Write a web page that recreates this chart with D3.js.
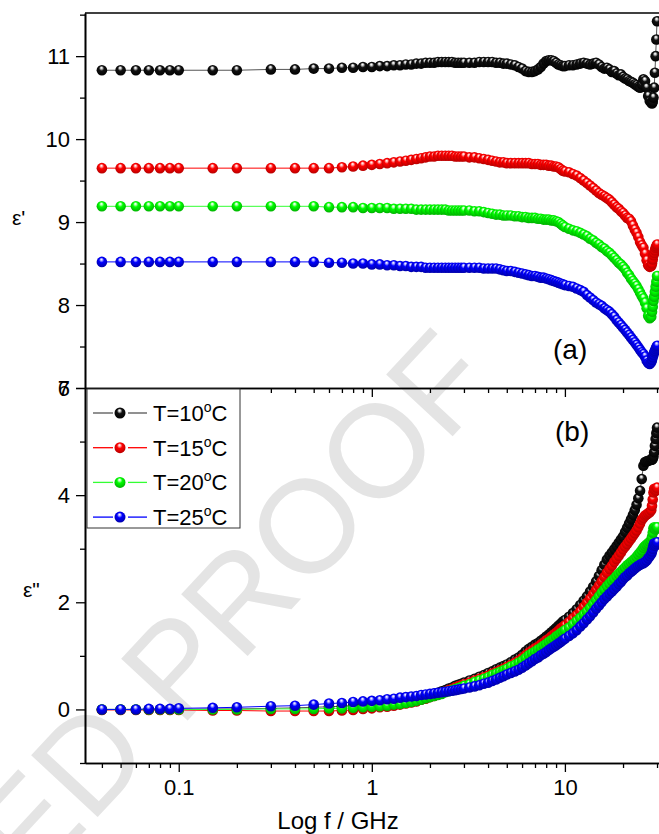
<!DOCTYPE html>
<html>
<head>
<meta charset="utf-8">
<script src="https://cdn.jsdelivr.net/npm/d3@7"></script>
<style>
  body { margin: 0; background: #fff; }
  text { font-family: "Liberation Sans", Arial, sans-serif; }
</style>
</head>
<body>
<div id="chart"></div>
<script>
/////////////////////////////////////
//////////////// data ///////////////
/////////////////////////////////////

var freq = [0.04,0.05,0.06,0.07,0.08,0.09,0.1,0.15,0.2,0.3,0.4,0.5,0.6,0.7,0.8,0.9,1.0,
  1.1,1.2,1.3,1.4,1.5,1.6,1.7,1.8,1.9,2.0,2.1,2.2,2.3,2.4,2.5,2.6,2.7,2.8,2.9,3.0,
  3.2,3.4,3.6,3.8,4.0,4.2,4.4,4.6,4.8,5.0,
  5.25,5.5,5.75,6,6.25,6.5,6.75,7,7.25,7.5,7.75,8,8.25,8.5,8.75,9,9.25,9.5,9.75,10,
  10.5,11,11.5,12,12.5,13,13.5,14,14.5,15,15.5,16,16.5,17,17.5,18,18.5,19,19.5,20,
  20.5,21,21.5,22,22.5,23,23.5,24,24.5,25,25.5,26,26.5,27,27.5,28,
  28.25,28.5,28.75,29,29.25,29.5,29.75,30];

// epsilon' (panel a)
var eps1_10 = [10.83,10.83,10.83,10.83,10.83,10.83,10.83,10.83,10.83,10.84,10.84,10.85,10.85,10.86,10.86,10.87,10.87,
  10.88,10.88,10.89,10.89,10.90,10.90,10.91,10.91,10.92,10.92,10.92,10.93,10.93,10.93,10.93,10.93,10.92,10.92,10.92,10.92,
  10.92,10.92,10.93,10.93,10.93,10.93,10.92,10.92,10.91,10.91,
  10.90,10.89,10.87,10.85,10.82,10.81,10.81,10.82,10.84,10.87,10.91,10.94,10.95,10.95,10.94,10.92,10.90,10.89,10.88,10.88,
  10.89,10.89,10.90,10.91,10.92,10.91,10.90,10.91,10.92,10.90,10.87,10.85,10.86,10.84,10.81,10.82,10.79,10.77,10.78,10.75,
  10.73,10.72,10.70,10.69,10.68,10.66,10.65,10.63,10.62,10.66,10.72,10.70,10.62,10.52,10.46,10.44,
  10.43,10.45,10.50,10.62,10.80,11.00,11.20,11.42];
var eps1_15 = [9.65,9.65,9.65,9.65,9.65,9.65,9.65,9.65,9.65,9.65,9.65,9.65,9.65,9.66,9.67,9.68,9.69,
  9.70,9.71,9.72,9.73,9.74,9.75,9.76,9.77,9.78,9.79,9.79,9.80,9.80,9.80,9.80,9.80,9.79,9.79,9.79,9.79,
  9.78,9.78,9.77,9.76,9.75,9.74,9.73,9.72,9.72,9.71,
  9.71,9.71,9.71,9.71,9.71,9.71,9.70,9.70,9.70,9.69,9.69,9.69,9.68,9.68,9.67,9.67,9.66,9.64,9.62,9.61,
  9.60,9.58,9.56,9.53,9.50,9.47,9.44,9.41,9.38,9.35,9.33,9.31,9.29,9.27,9.24,9.21,9.18,9.16,9.13,9.11,
  9.08,9.05,9.04,9.01,8.96,8.91,8.87,8.82,8.76,8.72,8.69,8.62,8.54,8.48,8.46,8.47,
  8.50,8.55,8.60,8.63,8.66,8.69,8.71,8.73];
var eps1_20 = [9.19,9.19,9.19,9.19,9.19,9.19,9.19,9.19,9.19,9.19,9.19,9.19,9.18,9.18,9.18,9.17,9.17,
  9.17,9.17,9.16,9.16,9.16,9.16,9.15,9.15,9.15,9.15,9.15,9.15,9.15,9.15,9.14,9.14,9.14,9.14,9.14,9.14,
  9.14,9.13,9.13,9.12,9.11,9.10,9.09,9.09,9.08,9.08,
  9.08,9.07,9.07,9.06,9.06,9.05,9.05,9.05,9.04,9.04,9.03,9.03,9.03,9.02,9.02,9.01,9.00,8.98,8.96,8.94,
  8.92,8.90,8.89,8.87,8.85,8.83,8.80,8.78,8.75,8.73,8.70,8.68,8.65,8.63,8.60,8.57,8.54,8.51,8.49,8.46,
  8.43,8.39,8.36,8.32,8.29,8.26,8.23,8.19,8.15,8.11,8.08,8.03,7.96,7.87,7.84,7.86,
  7.92,7.98,8.05,8.10,8.16,8.22,8.28,8.35];
var eps1_25 = [8.52,8.52,8.52,8.52,8.52,8.52,8.52,8.52,8.52,8.52,8.52,8.52,8.51,8.51,8.50,8.50,8.49,
  8.49,8.48,8.48,8.47,8.47,8.46,8.46,8.46,8.45,8.45,8.45,8.45,8.45,8.45,8.45,8.45,8.45,8.45,8.45,8.45,
  8.45,8.45,8.45,8.44,8.44,8.44,8.44,8.43,8.42,8.41,
  8.41,8.40,8.39,8.38,8.37,8.36,8.35,8.35,8.34,8.33,8.33,8.32,8.31,8.30,8.29,8.28,8.27,8.26,8.25,8.24,
  8.23,8.22,8.20,8.18,8.16,8.12,8.09,8.06,8.03,8.01,7.99,7.96,7.94,7.92,7.89,7.86,7.82,7.79,7.76,7.73,
  7.70,7.67,7.64,7.61,7.58,7.55,7.52,7.49,7.46,7.43,7.41,7.38,7.33,7.30,7.29,7.31,
  7.34,7.37,7.40,7.43,7.45,7.47,7.49,7.51];

// epsilon'' (panel b)
var eps2_10 = [0,0,0,0,0,0,0,0.01,0.01,0.02,0.03,0.04,0.05,0.06,0.07,0.08,0.09,
  0.10,0.11,0.13,0.15,0.17,0.19,0.21,0.23,0.25,0.27,0.29,0.31,0.34,0.36,0.39,0.41,0.44,0.46,0.48,0.50,
  0.54,0.57,0.61,0.64,0.68,0.71,0.75,0.78,0.81,0.84,
  0.88,0.93,0.97,1.02,1.08,1.13,1.17,1.21,1.24,1.28,1.32,1.36,1.40,1.44,1.48,1.52,1.56,1.60,1.64,1.67,
  1.73,1.80,1.87,1.95,2.03,2.11,2.20,2.29,2.39,2.49,2.60,2.70,2.80,2.87,2.93,2.99,3.05,3.11,3.17,3.23,
  3.31,3.39,3.47,3.55,3.63,3.72,3.82,3.94,4.08,4.30,4.55,4.62,4.63,4.64,4.65,4.66,
  4.66,4.68,4.72,4.80,4.92,5.05,5.16,5.26];
var eps2_15 = [-0.01,-0.01,-0.01,-0.01,-0.01,-0.01,-0.01,-0.02,-0.02,-0.03,-0.03,-0.03,-0.03,-0.02,-0.01,0.01,0.02,
  0.04,0.05,0.07,0.09,0.11,0.13,0.15,0.18,0.20,0.23,0.25,0.28,0.30,0.33,0.36,0.38,0.41,0.43,0.45,0.47,
  0.50,0.54,0.57,0.60,0.63,0.67,0.70,0.73,0.76,0.79,
  0.83,0.87,0.91,0.96,1.01,1.06,1.10,1.14,1.17,1.21,1.25,1.29,1.32,1.36,1.40,1.43,1.47,1.51,1.54,1.57,
  1.63,1.70,1.76,1.83,1.91,1.99,2.07,2.15,2.23,2.31,2.39,2.47,2.55,2.62,2.68,2.75,2.81,2.87,2.93,2.99,
  3.04,3.09,3.14,3.19,3.24,3.29,3.34,3.40,3.47,3.54,3.58,3.62,3.64,3.66,3.68,3.72,
  3.80,3.92,4.05,4.12,4.10,4.08,4.10,4.14];
var eps2_20 = [0,0,0,0,0,0,0,0,0,0.01,0.01,0.01,0.02,0.02,0.03,0.04,0.05,
  0.06,0.07,0.09,0.10,0.12,0.14,0.16,0.18,0.21,0.23,0.25,0.27,0.29,0.32,0.34,0.36,0.38,0.40,0.42,0.44,
  0.47,0.51,0.54,0.57,0.60,0.64,0.67,0.70,0.73,0.76,
  0.80,0.83,0.87,0.91,0.96,1.01,1.05,1.08,1.12,1.15,1.19,1.22,1.26,1.29,1.32,1.36,1.39,1.42,1.45,1.48,
  1.53,1.59,1.65,1.71,1.77,1.83,1.90,1.97,2.04,2.11,2.18,2.24,2.30,2.35,2.40,2.44,2.49,2.53,2.57,2.61,
  2.65,2.69,2.72,2.75,2.78,2.81,2.85,2.89,2.93,2.97,3.02,3.05,3.08,3.10,3.13,3.16,
  3.22,3.30,3.38,3.40,3.38,3.36,3.38,3.40];
var eps2_25 = [0,0,0,0.01,0.01,0.01,0.02,0.03,0.04,0.06,0.07,0.09,0.11,0.12,0.14,0.15,0.16,
  0.17,0.19,0.20,0.22,0.23,0.24,0.25,0.27,0.28,0.29,0.30,0.31,0.32,0.33,0.34,0.35,0.36,0.37,0.38,0.39,
  0.41,0.43,0.45,0.48,0.50,0.53,0.56,0.59,0.62,0.65,
  0.68,0.71,0.74,0.78,0.82,0.86,0.90,0.94,0.97,1.01,1.04,1.07,1.11,1.14,1.17,1.20,1.23,1.26,1.29,1.32,
  1.37,1.42,1.48,1.55,1.61,1.68,1.74,1.81,1.88,1.94,2.00,2.06,2.11,2.16,2.20,2.25,2.29,2.34,2.38,2.43,
  2.47,2.50,2.54,2.57,2.60,2.63,2.66,2.68,2.70,2.72,2.73,2.75,2.78,2.82,2.86,2.90,
  2.95,3.00,3.06,3.10,3.08,3.06,3.09,3.12];

var seriesNames = ["T=10", "T=15", "T=20", "T=25"];
var xMajor = [0.1, 1, 10];
var xMinor = [0.04,0.05,0.06,0.07,0.08,0.09,0.2,0.3,0.4,0.5,0.6,0.7,0.8,0.9,2,3,4,5,6,7,8,9,20,30];
var yTopTicks = [7, 8, 9, 10, 11];
var yTopMinor = [7.5, 8.5, 9.5, 10.5, 11.5];
var yBotTicks = [0, 2, 4, 6];
var yBotMinor = [-1, 1, 3, 5];

/////////////////////////////////////
/////////////// setup ///////////////
/////////////////////////////////////

var W = 659, H = 834;
var plotL = 85, plotR = 664, plotT = 13, plotM = 388, plotB = 763;

var svg = d3.select("#chart")
    .append("svg")
      .attr("width", W)
      .attr("height", H);

var styles = [
    {id: "k", line: "#555", light: "#d8d8d8", base: "#111", dark: "#000"},
    {id: "r", line: "#ff0000", light: "#ffc0c0", base: "#ff0000", dark: "#b00000"},
    {id: "g", line: "#33ff33", light: "#c8ffc8", base: "#00ff00", dark: "#00a800"},
    {id: "b", line: "#0000ff", light: "#c0c0ff", base: "#0000ff", dark: "#0000a0"}
];

var defs = svg.append("defs");
styles.forEach(function(s) {
    var g = defs.append("radialGradient")
        .attr("id", "ball-" + s.id)
        .attr("cx", "0.5").attr("cy", "0.45").attr("r", "0.6")
        .attr("fx", "0.45").attr("fy", "0.25");
    g.append("stop").attr("offset", "0%").attr("stop-color", "#fff");
    g.append("stop").attr("offset", "14%").attr("stop-color", s.light);
    g.append("stop").attr("offset", "40%").attr("stop-color", s.base);
    g.append("stop").attr("offset", "100%").attr("stop-color", s.dark);
});

// watermark
svg.append("text")
    .attr("transform", "translate(-335,1281) rotate(-47)")
    .attr("font-size", 132)
    .style("fill", "#e4e4e4")
    .text("ACCEPTED PROOF");

var x = d3.scaleLog()
    .domain([0.0327, 32.6])
    .range([plotL, plotR]);

var yTop = d3.scaleLinear()
    .domain([7, 11.52])
    .range([plotM, plotT]);

var yBot = d3.scaleLinear()
    .domain([-1, 6])
    .range([plotB, plotM]);

/////////////////////////////////////
//////////////// marks //////////////
/////////////////////////////////////

function drawPanel(y, sets) {
    var g = svg.append("g");
    sets.forEach(function(vals, i) {
        var pts = freq.map(function(f, j) { return {f: f, v: vals[j]}; });
        g.append("path")
            .datum(pts)
            .attr("d", d3.line()
                .x(function(d) { return x(d.f); })
                .y(function(d) { return y(d.v); }))
            .attr("fill", "none")
            .attr("stroke", styles[i].line)
            .attr("stroke-width", 1);
    });
    sets.forEach(function(vals, i) {
        var pts = freq.map(function(f, j) { return {f: f, v: vals[j]}; });
        g.selectAll(".m" + i)
            .data(pts)
            .enter()
            .append("circle")
              .attr("class", "m" + i)
              .attr("cx", function(d) { return x(d.f); })
              .attr("cy", function(d) { return y(d.v); })
              .attr("r", 5.3)
              .attr("fill", "url(#ball-" + styles[i].id + ")");
    });
}

drawPanel(yTop, [eps1_10, eps1_15, eps1_20, eps1_25]);
drawPanel(yBot, [eps2_10, eps2_15, eps2_20, eps2_25]);

/////////////////////////////////////
//////////////// axes ///////////////
/////////////////////////////////////

function styleAxis(sel) {
    sel.selectAll("path").attr("stroke", "#000").attr("stroke-width", 1.6);
    sel.selectAll("line").attr("stroke", "#000").attr("stroke-width", 1.3);
    sel.selectAll("text").attr("font-size", 22).attr("fill", "#000")
        .style("font-family", "Liberation Sans, Arial, sans-serif");
}

// x axes (bottom of each panel)
[plotM, plotB].forEach(function(yPos, k) {
    svg.append("g")
        .attr("transform", "translate(0," + yPos + ")")
        .call(d3.axisBottom(x).tickValues(xMinor).tickSize(5).tickSizeOuter(0).tickFormat(""))
        .call(styleAxis);
    svg.append("g")
        .attr("transform", "translate(0," + yPos + ")")
        .call(d3.axisBottom(x).tickValues(xMajor).tickSize(9).tickSizeOuter(0)
            .tickPadding(7)
            .tickFormat(k == 1 ? function(d) { return d; } : ""))
        .call(styleAxis);
});

// top border
svg.append("line")
    .attr("x1", plotL).attr("x2", plotR)
    .attr("y1", plotT).attr("y2", plotT)
    .attr("stroke", "#000").attr("stroke-width", 1.6);

// y axes
svg.append("g")
    .attr("transform", "translate(" + plotL + ",0)")
    .call(d3.axisLeft(yTop).tickValues(yTopMinor).tickSize(5).tickSizeOuter(0).tickFormat(""))
    .call(styleAxis);
svg.append("g")
    .attr("transform", "translate(" + plotL + ",0)")
    .call(d3.axisLeft(yTop).tickValues(yTopTicks).tickSize(9).tickSizeOuter(0).tickPadding(6)
        .tickFormat(d3.format("d")))
    .call(styleAxis);
svg.append("g")
    .attr("transform", "translate(" + plotL + ",0)")
    .call(d3.axisLeft(yBot).tickValues(yBotMinor).tickSize(5).tickSizeOuter(0).tickFormat(""))
    .call(styleAxis);
svg.append("g")
    .attr("transform", "translate(" + plotL + ",0)")
    .call(d3.axisLeft(yBot).tickValues(yBotTicks).tickSize(9).tickSizeOuter(0).tickPadding(6)
        .tickFormat(d3.format("d")))
    .call(styleAxis);

// axis titles
svg.append("text")
    .attr("x", 338).attr("y", 829)
    .attr("text-anchor", "middle")
    .attr("font-size", 24)
    .text("Log f / GHz");

svg.append("text")
    .attr("x", 12).attr("y", 225)
    .attr("font-size", 21)
    .text("\u03b5'");

svg.append("text")
    .attr("x", 23).attr("y", 597)
    .attr("font-size", 21)
    .text("\u03b5\"");

// panel labels
svg.append("text").attr("x", 553).attr("y", 359).attr("font-size", 28).text("(a)");
svg.append("text").attr("x", 555).attr("y", 441).attr("font-size", 28).text("(b)");

/////////////////////////////////////
/////////////// legend //////////////
/////////////////////////////////////

svg.append("rect")
    .attr("x", 87).attr("y", 389)
    .attr("width", 153).attr("height", 139)
    .attr("fill", "#fff")
    .attr("stroke", "#333")
    .attr("stroke-width", 1);

seriesNames.forEach(function(name, i) {
    var cy = 413 + i * 34.7;
    svg.append("line").attr("x1", 93).attr("x2", 113).attr("y1", cy).attr("y2", cy)
        .attr("stroke", styles[i].line).attr("stroke-width", 1.3);
    svg.append("line").attr("x1", 128).attr("x2", 147).attr("y1", cy).attr("y2", cy)
        .attr("stroke", styles[i].line).attr("stroke-width", 1.3);
    svg.append("circle").attr("cx", 120).attr("cy", cy).attr("r", 5.5)
        .attr("fill", "url(#ball-" + styles[i].id + ")");
    var t = svg.append("text").attr("x", 153).attr("y", cy + 8).attr("font-size", 22);
    t.append("tspan").text(name);
    t.append("tspan").attr("dy", -9).attr("font-size", 14).text("o");
    t.append("tspan").attr("dy", 9).text("C");
});
</script>
</body>
</html>
